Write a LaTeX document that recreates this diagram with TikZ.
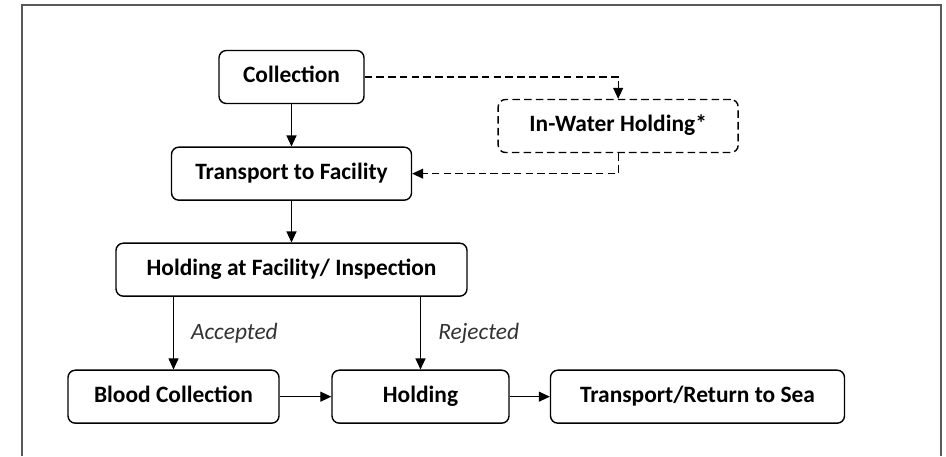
\documentclass[tikz,border=0pt]{standalone}
\usepackage{fontspec}
\setmainfont{Carlito}
\usetikzlibrary{arrows.meta,calc}
\tikzset{%
  >={Triangle[width=3mm,length=3.3mm]},
  % Specifications for style of nodes:
            base/.style = {rectangle, rounded corners=2.2mm, draw=black,
                           line width=1.2pt, minimum height=1.59cm,
                           text height=14pt, text depth=4pt,
                           text centered, font=\fontsize{20}{24}\selectfont\bfseries},
  stage/.style = {base, fill=white},
   wetstage/.style = {base, dash pattern=on 6.5pt off 3.5pt},
        flowlabel/.style = {font=\fontsize{20}{24}\selectfont\itshape, text=black!80},
}
\begin{document}
\begin{tikzpicture}[node distance=2.9cm, line width=1pt]
  \useasboundingbox (0,0) rectangle (28.38,-13.68);
  % outer frame
  \draw[line width=1.6pt,black!65] (0.66,-13.68) |- (28.23,-0.15) -- (28.23,-13.68);
  % Specification of nodes (position, etc.)
  \node (collect)  [stage, minimum width=4.35cm] at (8.745,-2.31) {Collection};
  \node (transport) [stage, minimum width=7.2cm, below of=collect] {Transport to Facility};
  \node (inwater)  [wetstage, minimum width=7.2cm, right of=collect,xshift=6.9cm,yshift=-1.47cm] {In-Water Holding*};
  \node (inspect)  [stage, minimum width=10.53cm, below of=transport,yshift=0.02cm] {Holding at Facility/ Inspection};
  \node (blood)    [stage, minimum width=6.33cm, below of=inspect,yshift=-0.91cm,xshift=-3.54cm] {Blood Collection};
  \node (holding)  [stage, minimum width=5.31cm, below of=inspect,yshift=-0.91cm,xshift=3.87cm] {Holding};
  \node (release)  [stage, minimum width=8.82cm, right of=holding,xshift=5.41cm] {Transport/Return to Sea};
  % lines between nodes
\draw[->]   (collect) -- (transport);
\draw[->]   (transport) -- (inspect);
\draw[->,line width=0.6pt] (blood.north |- inspect.south) -- node[flowlabel,anchor=west,xshift=4mm]{Accepted} (blood.north);
\draw[->]   (holding.north |- inspect.south) -- node[flowlabel,anchor=west,xshift=4mm]{Rejected} (holding.north);
\draw[->]   (blood) -- (holding);
\draw[->]   (holding) -- (release);
  \draw[->,dash pattern=on 6.5pt off 3.5pt] (collect.east) -| (inwater.north);
  \draw[->,dash pattern=on 6.5pt off 3.5pt] (inwater.south) |- (transport.east);
\end{tikzpicture}
\end{document}
